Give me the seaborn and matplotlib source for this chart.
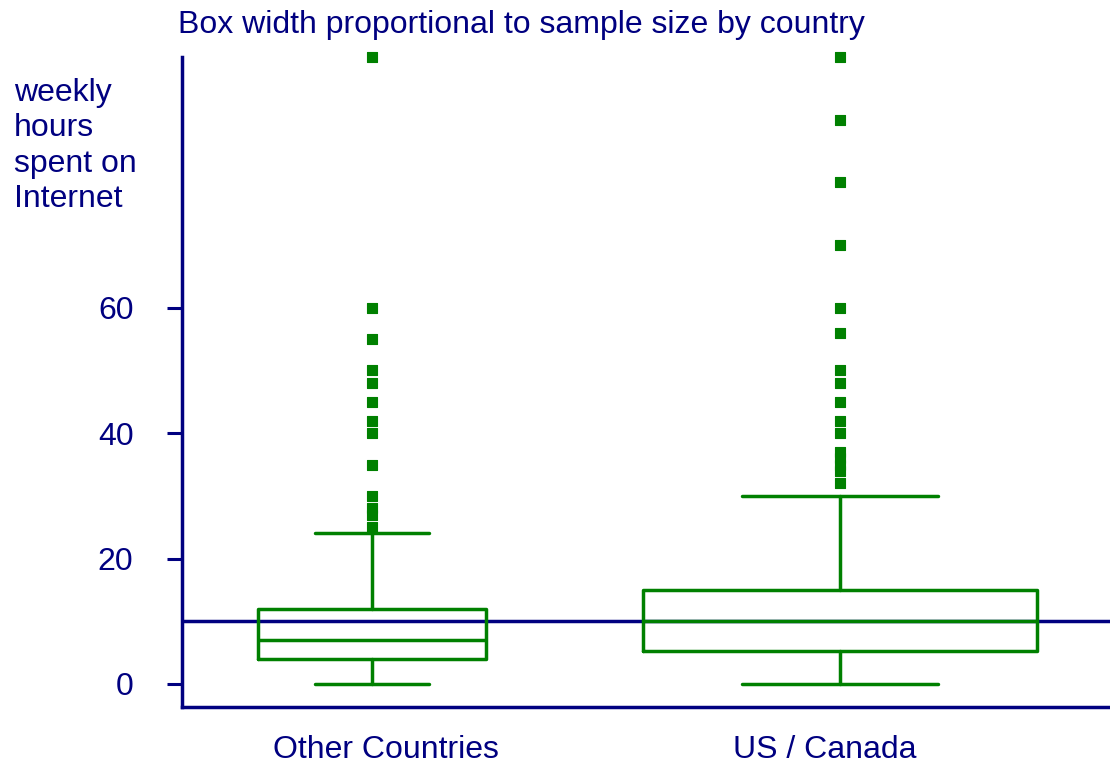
import matplotlib
matplotlib.use("Agg")
import matplotlib.pyplot as plt
import seaborn as sns
import pandas as pd

# Data
countries = ["Other Countries", "US / Canada"]
box_q1 = [4, 5.3]
box_median = [7, 10]
box_q3 = [12, 15]
whisker_low = [0, 0]
whisker_high = [24, 30]
box_widths = [0.487, 0.84]          # proportional to sample size
outliers_other = [25, 27, 28, 30, 35, 40, 42, 45, 48, 50, 55, 60, 100]
outliers_us = [32, 34, 35, 36, 37, 40, 42, 45, 48, 50, 56, 60, 70, 80, 90, 100]
overall_median = 10

navy = "#000080"
green = "#008000"

sns.set_style("white")
plt.rcParams["font.family"] = ["Liberation Sans", "DejaVu Sans"]

fig = plt.figure(figsize=(11.1, 7.67), dpi=100)
ax = fig.add_axes([182 / 1110, 60 / 767, 1 - 182 / 1110, 650 / 767])

# Build bxp stats from the arrays
stats = []
for i in range(len(countries)):
    stats.append({
        "label": countries[i],
        "q1": box_q1[i], "med": box_median[i], "q3": box_q3[i],
        "whislo": whisker_low[i], "whishi": whisker_high[i],
        "fliers": [],
    })
positions = list(range(len(countries)))
line_kw = dict(color=green, linewidth=2.5)
ax.bxp(stats, positions=positions, widths=box_widths,
       capwidths=[w / 2 for w in box_widths],
       boxprops=line_kw, whiskerprops=line_kw, capprops=line_kw,
       medianprops=line_kw, showfliers=False, manage_ticks=False)

# outliers drawn with seaborn
fl = pd.DataFrame({
    "x": [positions[0]] * len(outliers_other) + [positions[1]] * len(outliers_us),
    "y": outliers_other + outliers_us,
})
sns.scatterplot(data=fl, x="x", y="y", ax=ax, marker="s", s=44, color=green,
                edgecolor=green, linewidth=0.8, clip_on=False, zorder=5)

ax.axhline(overall_median, color=navy, linewidth=2.5, zorder=1)

ax.set_xlim(-0.406, 1.577)
ax.set_ylim(-3.68, 100)
ax.set_yticks([0, 20, 40, 60])
ax.set_xticks([0.03, 0.968])
ax.set_xticklabels(countries)
ax.set_xlabel("")
ax.set_ylabel("")

for side in ["top", "right"]:
    ax.spines[side].set_visible(False)
for side in ["left", "bottom"]:
    ax.spines[side].set_color(navy)
    ax.spines[side].set_linewidth(2.5)

ax.tick_params(axis="y", length=11, width=2.2, color=navy, labelcolor=navy,
               labelsize=23, pad=24, left=True)
ax.tick_params(axis="x", length=0, labelcolor=navy, labelsize=23, pad=20)

fig.text(178 / 1110, 1 - 25 / 767, "Box width proportional to sample size by country",
         color=navy, fontsize=23, ha="left", va="center")
fig.text(14 / 1110, 1 - 78 / 767, "weekly\nhours\nspent on\nInternet",
         color=navy, fontsize=23, ha="left", va="top", linespacing=1.23)

fig.savefig("out.png", dpi=100)
